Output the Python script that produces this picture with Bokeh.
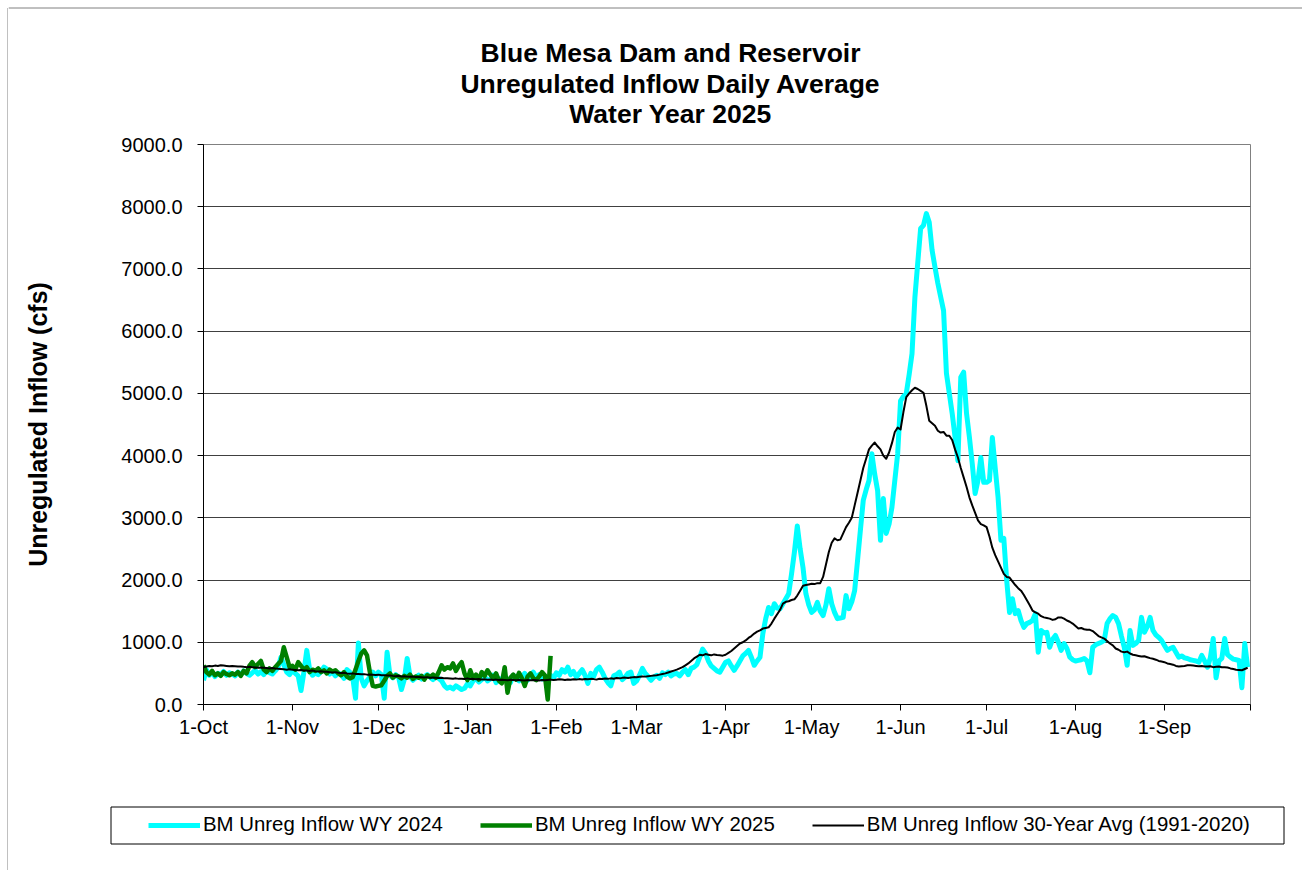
import numpy as np
from bokeh.plotting import figure
from bokeh.layouts import column, row
from bokeh.models import (Range1d, FixedTicker, NumeralTickFormatter,
                          Legend, LegendItem)
from bokeh.core.properties import value
from bokeh.embed import file_html
from bokeh.resources import INLINE

# ---------------- data ----------------
month_ticks = [0, 31, 61, 92, 123, 151, 182, 212, 243, 273, 304, 335, 365]
month_labels = ["1-Oct", "1-Nov", "1-Dec", "1-Jan", "1-Feb", "1-Mar", "1-Apr",
                "1-May", "1-Jun", "1-Jul", "1-Aug", "1-Sep", ""]
y_ticks = [0, 1000, 2000, 3000, 4000, 5000, 6000, 7000, 8000, 9000]

wy2024 = [
    390, 560, 470, 520, 450, 500, 480, 530, 470, 510,
    490, 460, 520, 480, 540, 500, 470, 510, 550, 490,
    530, 480, 560, 510, 490, 540, 600, 760, 640, 520,
    480, 550, 500, 460, 225, 520, 870, 560, 470, 510,
    480, 530, 600, 570, 490, 520, 460, 510, 480, 420,
    560, 520, 440, 100, 990, 420, 300, 380, 440, 520,
    460, 520, 480, 100, 840, 470, 430, 480, 440, 240,
    400, 740, 450, 390, 430, 470, 410, 450, 480, 440,
    400, 450, 420, 380, 300, 260, 280, 250, 300, 270,
    240, 260, 330, 300, 380, 420, 360, 400, 450, 380,
    410, 470, 350, 420, 380, 450, 400, 350, 470, 420,
    380, 440, 500, 390, 460, 520, 430, 480, 410, 450,
    390, 470, 420, 510, 470, 560, 520, 600, 480, 530,
    440, 500, 560, 470, 340, 500, 450, 560, 600, 520,
    420, 350, 300, 460, 480, 520, 400, 440, 500, 520,
    340, 380, 470, 580, 500, 450, 390, 440, 470, 420,
    510, 480, 520, 460, 490, 500, 460, 520, 560, 480,
    580, 600, 640, 760, 890, 820, 700, 620, 580, 540,
    520, 600, 680, 700, 620, 550, 620, 700, 780, 820,
    870, 760, 630, 700, 760, 1140, 1380, 1560, 1460, 1620,
    1550, 1540, 1620, 1700, 1780, 2100, 2450, 2870, 2500, 2200,
    1780, 1600, 1480, 1520, 1640, 1500, 1430, 1600, 1860, 1620,
    1480, 1380, 1390, 1400, 1750, 1540, 1650, 1830, 2310, 2800,
    3280, 3450, 3600, 4030, 3700, 3440, 2640, 3310, 2750, 2900,
    3170, 3600, 4030, 4880, 4950, 5000, 5300, 5640, 6540, 7100,
    7650, 7700, 7890, 7750, 7300, 7030, 6770, 6550, 6330, 5320,
    5000, 4680, 4300, 3920, 5260, 5340, 4680, 4300, 3870, 3390,
    3600, 3970, 3570, 3570, 3600, 4290, 3800, 3330, 2640, 2670,
    2000, 1480, 1700, 1460, 1510, 1350, 1240, 1300, 1320, 1350,
    1460, 840, 1190, 1150, 1160, 920, 1050, 1110, 1000, 870,
    980, 900, 760, 720, 700, 710, 720, 740, 700, 510,
    920, 960, 980, 1000, 1030, 1300, 1380, 1430, 1400, 1300,
    1100, 920, 630, 1190, 950, 980, 1030, 1400, 1160, 1250,
    1400, 1190, 1120, 1080, 1030, 950, 870, 900, 920, 840,
    760, 780, 750, 740, 720, 710, 700, 680, 790, 700,
    600, 750, 1060, 430, 700, 740, 1060, 800, 760, 730,
    720, 710, 270, 980, 600,
]

wy2025 = [
    630, 520, 480, 540, 470, 500, 460, 520, 490, 470,
    500, 480, 520, 460, 540, 500, 620, 680, 600, 650,
    700, 560, 520, 580, 540, 600, 650, 700, 920, 760,
    600, 620, 560, 680, 620, 560, 600, 520, 560, 540,
    580, 520, 550, 500, 560, 530, 550, 500, 470, 520,
    450, 420, 440, 560, 700, 820, 870, 790, 520, 300,
    290, 300, 310, 380, 460, 500, 430, 470, 450, 420,
    460, 430, 480, 410, 450, 430, 460, 400, 470, 440,
    480, 430, 520, 630, 560, 600, 580, 660, 540, 620,
    680, 500, 390, 550, 420, 480, 400, 520, 460, 550,
    480, 420, 500, 380, 340, 600, 190, 430, 480, 400,
    510, 420, 300, 450, 500, 420, 390, 450, 520, 470,
    80, 780,
]

avg30 = [
    600, 610, 620, 615, 625, 620, 630, 625, 620, 615,
    620, 615, 610, 612, 605, 600, 605, 600, 595, 590,
    595, 590, 585, 580, 585, 578, 575, 570, 565, 560,
    565, 560, 555, 550, 555, 548, 545, 540, 545, 535,
    530, 535, 528, 525, 520, 515, 520, 510, 505, 510,
    500, 495, 500, 492, 490, 485, 488, 480, 482, 478,
    475, 480, 470, 472, 465, 468, 460, 455, 462, 450,
    455, 448, 445, 450, 440, 442, 438, 435, 440, 430,
    432, 428, 425, 430, 420, 422, 418, 415, 420, 412,
    415, 410, 420, 408, 412, 405, 410, 400, 405, 398,
    402, 395, 400, 392, 398, 395, 390, 396, 392, 388,
    395, 390, 385, 392, 388, 395, 390, 385, 392, 388,
    395, 400, 392, 398, 405, 400, 395, 402, 398, 405,
    400, 408, 403, 410, 405, 412, 408, 400, 415, 410,
    418, 412, 420, 415, 425, 420, 428, 432, 425, 435,
    440, 438, 445, 450, 448, 455, 460, 465, 470, 480,
    490, 500, 515, 530, 545, 560, 580, 600, 630, 660,
    700, 740, 770, 800, 790, 810, 800, 790, 805, 795,
    790, 785, 800, 830, 860, 900, 940, 980, 1000, 1030,
    1070, 1100, 1140, 1170, 1190, 1220, 1230, 1240, 1300, 1380,
    1450, 1520, 1620, 1650, 1660, 1680, 1690, 1750, 1830, 1910,
    1920, 1930, 1940, 1935, 1950, 1950, 2050, 2250, 2450, 2600,
    2670, 2640, 2650, 2750, 2850, 2920, 3000, 3200, 3400, 3600,
    3800, 3950, 4100, 4160, 4210, 4150, 4100, 4000, 3950, 4050,
    4200, 4380, 4450, 4420, 4700, 4940, 5000, 5050, 5090, 5070,
    5040, 5010, 4800, 4560, 4520, 4480, 4400, 4370, 4380, 4320,
    4320, 4250, 4100, 3970, 3800, 3650, 3500, 3330, 3200, 3080,
    2960, 2900, 2880, 2850, 2700, 2520, 2400, 2300, 2200, 2100,
    2050, 2040, 1980, 1920, 1870, 1830, 1760, 1680, 1600, 1510,
    1480, 1460, 1420, 1400, 1390, 1380, 1360, 1370, 1400, 1400,
    1380, 1350, 1330, 1300, 1260, 1220, 1230, 1210, 1200, 1200,
    1180, 1140, 1100, 1080, 1060, 1020, 980, 950, 900, 880,
    850, 840, 850, 820, 800, 790, 780, 770, 775, 760,
    745, 735, 720, 700, 690, 680, 660, 650, 640, 620,
    610, 615, 620, 630, 630, 625, 620, 615, 620, 612,
    610, 615, 600, 605, 610, 600, 600, 595, 580, 570,
    560, 555, 550, 570, 590,
]

title_lines = ["Blue Mesa Dam and Reservoir",
               "Unregulated Inflow Daily Average",
               "Water Year 2025"]
series_names = ["BM Unreg Inflow WY 2024", "BM Unreg Inflow WY 2025",
                "BM Unreg Inflow 30-Year Avg (1991-2020)"]
series_colors = ["#00FFFF", "#008000", "#000000"]
series_widths = [5, 4.5, 2]

FONT = "Liberation Sans"
BORDER = "#808080"
SW = 8             # width of the left border strip
W = 1294           # width of the right-hand column
TH, MH, LH = 130, 14 + 560 + 46, 120


def blank_fig(width, height):
    f = figure(width=width, height=height, output_backend="svg",
               toolbar_location=None, x_axis_type=None, y_axis_type=None,
               x_range=Range1d(0, width), y_range=Range1d(height, 0),
               min_border=0, min_border_left=0, min_border_right=0,
               min_border_top=0, min_border_bottom=0,
               outline_line_color=None, background_fill_color="white",
               border_fill_color="white")
    f.grid.visible = False
    return f


# ---------------- left border strip (full height) ----------------
strip = blank_fig(SW, TH + MH + LH)
strip.segment(x0=[7.5, 7.5], y0=[7.5, 7.5], x1=[7.5, SW], y1=[TH + MH + LH, 7.5],
              line_color=BORDER, line_width=1)

# ---------------- title ----------------
tf = blank_fig(W, TH)
tf.segment(x0=[0], y0=[7.5], x1=[W], y1=[7.5], line_color=BORDER, line_width=1)
tf.text(x=[662, 662, 662], y=[52.5, 83.5, 113.5], text=title_lines,
        text_align="center", text_baseline="middle",
        text_font=value(FONT), text_font_style="bold",
        text_font_size="26.5px", text_color="black")

# ---------------- main chart ----------------
p = figure(width=W, height=MH, output_backend="svg", toolbar_location=None,
           x_range=Range1d(0, 365), y_range=Range1d(0, 9000),
           min_border_left=195, min_border_right=W - 195 - 1047,
           min_border_top=14, min_border_bottom=46,
           background_fill_color="white", border_fill_color="white")

p.outline_line_color = BORDER
p.outline_line_width = 1
p.xgrid.visible = False
p.ygrid.grid_line_color = "#404040"
p.ygrid.grid_line_width = 1
p.ygrid.ticker = FixedTicker(ticks=y_ticks)

p.yaxis.ticker = FixedTicker(ticks=y_ticks)
p.yaxis.formatter = NumeralTickFormatter(format="0.0")
p.yaxis.major_tick_in = 0
p.yaxis.major_tick_out = 6
p.yaxis.minor_tick_line_color = None
p.yaxis.axis_line_color = "black"
p.yaxis.major_label_text_font = FONT
p.yaxis.major_label_text_font_size = "20px"
p.yaxis.major_label_text_color = "black"
p.yaxis.major_label_standoff = 15
p.yaxis.axis_label = "Unregulated Inflow (cfs)"
p.yaxis.axis_label_text_font = FONT
p.yaxis.axis_label_text_font_style = "bold"
p.yaxis.axis_label_text_font_size = "25px"
p.yaxis.axis_label_text_color = "black"
p.yaxis.axis_label_standoff = 66

p.xaxis.ticker = FixedTicker(ticks=month_ticks)
p.xaxis.major_label_overrides = {t: l for t, l in zip(month_ticks, month_labels)}
p.xaxis.major_tick_in = 0
p.xaxis.major_tick_out = 6
p.xaxis.minor_tick_line_color = None
p.xaxis.axis_line_color = "black"
p.xaxis.major_label_text_font = FONT
p.xaxis.major_label_text_font_size = "20px"
p.xaxis.major_label_text_color = "black"
p.xaxis.major_label_standoff = 5

for ys, c, lw in zip([wy2024, wy2025, avg30], series_colors, series_widths):
    p.line(list(range(len(ys))), ys, line_color=c, line_width=lw, line_join="round")

# ---------------- legend ----------------
lf = blank_fig(W, LH)
lf.quad(left=[102.5], right=[1275.5], top=[56.5], bottom=[93.5],
        fill_alpha=0, line_color="black", line_width=1)
nan1 = np.array([np.nan])
leg_rs = [lf.line(nan1, nan1, line_color=c, line_width=lw)
          for c, lw in zip(series_colors, series_widths)]
legend = Legend(items=[LegendItem(label=n, renderers=[r])
                       for n, r in zip(series_names, leg_rs)],
                orientation="horizontal", location=(140, 34),
                padding=0, margin=0, spacing=37, glyph_width=52, glyph_height=20,
                label_standoff=3, label_height=20,
                label_text_font=FONT, label_text_font_size="20.4px",
                label_text_color="black",
                border_line_alpha=0, background_fill_alpha=0)
lf.add_layout(legend, "center")

layout = row(strip, column(tf, row(p, spacing=0), lf, spacing=0), spacing=0)
open("out.html", "w").write(file_html(layout, INLINE))
